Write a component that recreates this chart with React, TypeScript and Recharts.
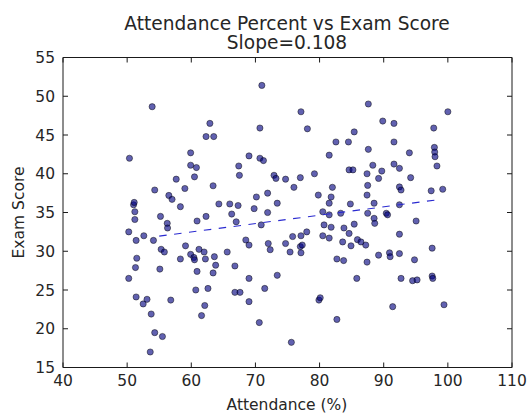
import { ScatterChart, Scatter, XAxis, YAxis } from 'recharts'

// the figure fills the whole window; keep the browser from adding scrollbars
document.documentElement.style.overflow = 'hidden'
document.body.style.margin = '0'

// attendance (%) and exam score
const attendance = [
    50.25, 51.0, 51.1, 51.2, 51.2, 51.4, 51.5, 51.3, 50.25, 51.4, 52.5, 53.1, 52.6, 54.1, 53.75, 54.3, 55.5, 53.6,
    55.2, 56.25, 56.3, 55.3, 55.8, 55.1, 56.8, 58.3, 59.1, 59.9, 60.4, 60.5, 60.9, 62.3, 61.2, 62.0, 62.2, 60.9,
    63.6, 63.8, 63.4, 60.7, 62.6, 62.1, 61.6, 58.3, 64.3, 66.0, 67.3, 66.3, 67.0, 65.6, 66.8, 66.8, 67.6, 68.5,
    69.0, 69.0, 69.0, 70.6, 69.8, 70.9, 71.9, 72.0, 72.3, 71.45, 73.4, 73.4,
    74.7, 75.8, 77.1, 78.0, 75.4, 77.0, 77.1, 77.3, 75.6, 79.9, 80.1, 82.7, 80.5, 81.5, 83.3, 80.7, 81.8, 80.5,
    81.5, 83.8, 84.6, 85.4, 83.6, 84.9, 85.9, 86.45, 87.2, 82.7, 83.75, 87.4, 85.8, 87.5, 88.5, 88.6, 88.5, 90.4,
    90.6, 92.45, 89.2, 90.9, 91.0, 92.45, 92.45, 95.05, 94.8, 92.7, 94.5, 95.2, 97.55, 97.55, 97.65, 91.4, 99.4,
    50.36, 53.9, 54.3, 56.5, 57.0, 57.65, 59.0, 59.9, 59.9, 60.8, 60.5, 62.9, 62.3, 63.5, 63.4, 67.4, 67.5, 69.0,
    70.15, 71.0, 70.7, 70.7, 71.25, 71.9, 72.9, 73.2, 77.1, 78.1, 81.5, 82.55, 84.5, 85.4, 87.6, 87.6, 89.85,
    91.6, 91.6, 94.0, 97.8, 97.9, 97.95, 98.0, 98.3, 100.0, 74.7, 76.0, 77.0, 79.2, 82.0, 81.8, 79.8, 81.5, 84.6,
    85.2, 84.8, 87.4, 87.5, 87.4, 88.3, 89.2, 89.7, 91.6, 92.45, 94.2, 92.45, 92.7, 97.4, 99.2,
]
const examScore = [
    32.5, 36.0, 36.3, 35.1, 34.1, 31.4, 29.1, 27.9, 26.5, 24.1, 23.2, 23.8, 32.0, 31.4, 21.9, 19.5, 19.0, 17.0,
    34.5, 33.6, 33.0, 30.25, 29.9, 27.7, 23.7, 29.0, 30.7, 29.6, 29.2, 28.9, 33.9, 34.5, 30.25, 29.9, 29.0, 27.4,
    29.3, 28.2, 27.2, 25.0, 25.2, 23.0, 21.7, 35.75, 36.1, 36.1, 35.9, 34.8, 33.8, 29.9, 28.1, 24.7, 24.7, 31.45,
    30.8, 26.5, 23.5, 20.8, 35.5, 33.4, 35.0, 31.0, 30.2, 25.2, 26.9, 36.2,
    31.0, 31.9, 32.0, 32.5, 29.9, 30.6, 29.8, 30.8, 18.25, 23.7, 24.0, 21.2, 35.1, 34.7, 34.9, 33.4, 33.1, 32.0,
    31.7, 33.0, 32.3, 33.5, 31.2, 30.7, 31.5, 31.2, 30.8, 29.0, 28.8, 28.6, 26.5, 34.9, 34.25, 33.6, 36.2, 34.9,
    34.7, 36.0, 29.5, 29.8, 29.3, 29.7, 32.2, 33.9, 28.9, 26.5, 26.2, 26.3, 30.4, 26.8, 26.5, 22.85, 23.1,
    42.0, 48.65, 37.9, 37.2, 36.7, 39.3, 38.1, 42.7, 41.1, 40.8, 39.6, 46.5, 44.8, 44.8, 38.45, 41.0, 39.8, 42.3,
    37.0, 51.4, 45.9, 42.0, 41.7, 37.5, 39.8, 39.4, 48.0, 45.8, 42.4, 44.1, 44.1, 45.4, 49.0, 43.15, 46.8,
    46.5, 44.1, 42.7, 45.9, 43.4, 42.8, 42.2, 41.0, 48.0, 39.3, 38.25, 39.5, 40.0, 38.25, 37.0, 37.25, 36.2, 40.5,
    40.5, 36.1, 40.0, 38.5, 37.25, 41.1, 39.4, 40.35, 41.25, 40.7, 39.5, 38.3, 37.9, 37.8, 38.0,
]

// dashed least-squares line as drawn (slope 0.108)
const fitX = [55, 98]
const fitY = [31.95, 36.6]

const xTicks = [40, 50, 60, 70, 80, 90, 100, 110]
const yTicks = [15, 20, 25, 30, 35, 40, 45, 50, 55]

const points = attendance.map((x, i) => ({ x, y: examScore[i] }))
const fitLine = fitX.map((x, i) => ({ x, y: fitY[i] }))

const FONT = '"DejaVu Sans", sans-serif'
const INK = '#262626'
const FRAME = '#1a1a1a'

const BottomTick = ({ x, y, payload }: any) => (
    <g>
        <line x1={x} x2={x} y1={y} y2={y - 5} stroke={FRAME} />
        <text x={x} y={y + 18.5} textAnchor="middle" fill={INK} fontSize={15.5} fontFamily={FONT}>
            {payload.value}
        </text>
    </g>
)

const LeftTick = ({ x, y, payload }: any) => (
    <g>
        <line x1={x} x2={x + 5} y1={y} y2={y} stroke={FRAME} />
        <text x={x - 8} y={y + 5.6} textAnchor="end" fill={INK} fontSize={15.5} fontFamily={FONT}>
            {payload.value}
        </text>
    </g>
)

const TopTick = ({ x, y }: any) => <line x1={x} x2={x} y1={y} y2={y + 5} stroke={FRAME} />
const RightTick = ({ x, y }: any) => <line x1={x} x2={x - 5} y1={y} y2={y} stroke={FRAME} />

const Dot = ({ cx, cy }: any) => (
    <circle cx={cx} cy={cy} r={3.1} fill="#000080" fillOpacity={0.62} stroke="#000000" strokeOpacity={0.45} strokeWidth={1} />
)

export default function App() {
    return (
        <div style={{ position: 'relative', width: 528, height: 414 }}>
            <ScatterChart width={528} height={414} margin={{ top: 56.5, right: 15, bottom: 0, left: 8 }}>
                <XAxis
                    type="number"
                    dataKey="x"
                    domain={[40, 110]}
                    ticks={xTicks}
                    interval={0}
                    height={46.5}
                    tickSize={0}
                    tickMargin={0}
                    tickLine={false}
                    axisLine={{ stroke: FRAME }}
                    tick={<BottomTick />}
                />
                <XAxis
                    xAxisId="top"
                    orientation="top"
                    type="number"
                    dataKey="x"
                    domain={[40, 110]}
                    ticks={xTicks}
                    interval={0}
                    height={1}
                    tickSize={0}
                    tickMargin={0}
                    tickLine={false}
                    axisLine={{ stroke: FRAME }}
                    tick={<TopTick />}
                />
                <YAxis
                    type="number"
                    dataKey="y"
                    domain={[15, 55]}
                    ticks={yTicks}
                    interval={0}
                    width={55}
                    tickSize={0}
                    tickMargin={0}
                    tickLine={false}
                    axisLine={{ stroke: FRAME }}
                    tick={<LeftTick />}
                />
                <YAxis
                    yAxisId="right"
                    orientation="right"
                    type="number"
                    dataKey="y"
                    domain={[15, 55]}
                    ticks={yTicks}
                    interval={0}
                    width={1}
                    tickSize={0}
                    tickMargin={0}
                    tickLine={false}
                    axisLine={{ stroke: FRAME }}
                    tick={<RightTick />}
                />
                <Scatter data={points} shape={<Dot />} isAnimationActive={false} />
                <Scatter
                    data={fitLine}
                    xAxisId="top"
                    yAxisId="right"
                    line={{ stroke: '#2a2ad0', strokeWidth: 1.1, strokeDasharray: '7.5 7.5' }}
                    shape={() => <g />}
                    isAnimationActive={false}
                />
            </ScatterChart>
            <svg
                width={528}
                height={414}
                style={{ position: 'absolute', left: 0, top: 0, pointerEvents: 'none' }}
                fontFamily={FONT}
                fill={INK}
            >
                <text x={287} y={29.5} textAnchor="middle" fontSize={18.6}>
                    Attendance Percent vs Exam Score
                </text>
                <text x={287} y={48.5} textAnchor="middle" fontSize={18.6}>
                    Slope=0.108
                </text>
                <text x={287} y={409.5} textAnchor="middle" fontSize={15.5}>
                    Attendance (%)
                </text>
                <text x={24} y={212.5} textAnchor="middle" fontSize={15.5} transform="rotate(-90 24 212.5)">
                    Exam Score
                </text>
            </svg>
        </div>
    )
}
